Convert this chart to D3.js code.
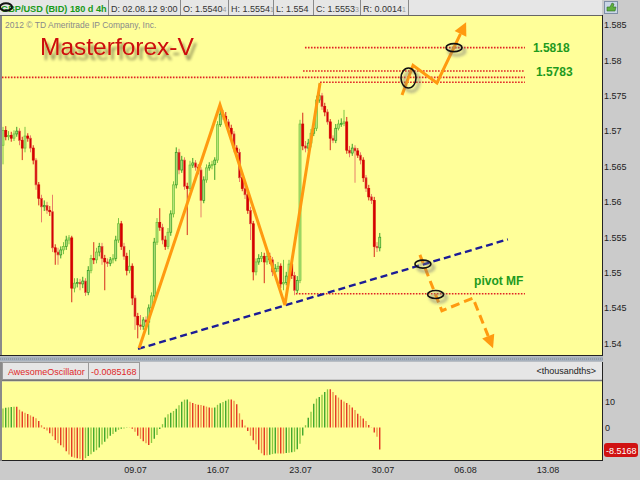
<!DOCTYPE html>
<html><head><meta charset="utf-8">
<script src="https://cdn.jsdelivr.net/npm/d3@7/dist/d3.min.js"></script>
<style>html,body{margin:0;padding:0;background:#cbcbcb;overflow:hidden}svg{display:block;font-family:"Liberation Sans",Arial,sans-serif}</style>
</head><body><svg id="c" width="640" height="480"></svg>
<script>
// ---- data (GBP/USD 4h candles) ----
const closes=[1.5701,1.5692,1.5694,1.5690,1.5696,1.5700,1.5687,1.5676,1.5693,1.5690,
1.5676,1.5659,1.5624,1.5605,1.5593,1.5595,1.5588,1.5586,1.5535,1.5529,
1.5525,1.5532,1.5537,1.5546,1.5549,1.5478,1.5485,1.5486,1.5484,1.5488,
1.5472,1.5503,1.5520,1.5518,1.5529,1.5537,1.5520,1.5515,1.5513,1.5518,
1.5520,1.5546,1.5569,1.5537,1.5523,1.5503,1.5509,1.5464,1.5438,1.5426,
1.5424,1.5433,1.5430,1.5450,1.5467,1.5543,1.5571,1.5564,1.5546,1.5537,
1.5557,1.5583,1.5624,1.5670,1.5645,1.5659,1.5622,1.5619,1.5652,1.5655,
1.5649,1.5645,1.5602,1.5631,1.5648,1.5651,1.5653,1.5659,1.5709,1.5724,
1.5721,1.5713,1.5704,1.5696,1.5676,1.5670,1.5634,1.5619,1.5610,1.5588,
1.5569,1.5501,1.5515,1.5520,1.5523,1.5515,1.5523,1.5518,1.5501,1.5506,
1.5509,1.5484,1.5486,1.5495,1.5512,1.5496,1.5475,1.5489,1.5710,1.5679,
1.5676,1.5683,1.5697,1.5704,1.5744,1.5750,1.5735,1.5727,1.5713,1.5690,
1.5687,1.5704,1.5710,1.5711,1.5713,1.5673,1.5669,1.5676,1.5672,1.5666,
1.5659,1.5634,1.5619,1.5607,1.5602,1.5537,1.5535,1.5550];
const opens=[1.5680,1.5701,1.5692,1.5694,1.5690,1.5696,1.5700,1.5687,1.5676,1.5693,
1.5690,1.5676,1.5659,1.5624,1.5605,1.5593,1.5595,1.5588,1.5586,1.5535,
1.5529,1.5525,1.5532,1.5537,1.5546,1.5549,1.5478,1.5485,1.5486,1.5484,
1.5488,1.5472,1.5503,1.5520,1.5518,1.5529,1.5537,1.5520,1.5515,1.5513,
1.5518,1.5520,1.5546,1.5569,1.5537,1.5523,1.5503,1.5509,1.5464,1.5438,
1.5426,1.5424,1.5433,1.5430,1.5450,1.5467,1.5543,1.5571,1.5564,1.5546,
1.5537,1.5557,1.5583,1.5624,1.5670,1.5645,1.5659,1.5622,1.5619,1.5652,
1.5655,1.5649,1.5645,1.5602,1.5631,1.5648,1.5651,1.5653,1.5659,1.5709,
1.5724,1.5721,1.5713,1.5704,1.5696,1.5676,1.5670,1.5634,1.5619,1.5610,
1.5588,1.5569,1.5501,1.5515,1.5520,1.5523,1.5515,1.5523,1.5518,1.5501,
1.5506,1.5509,1.5484,1.5486,1.5495,1.5512,1.5496,1.5475,1.5489,1.5710,
1.5679,1.5676,1.5683,1.5697,1.5704,1.5744,1.5750,1.5735,1.5727,1.5713,
1.5690,1.5687,1.5704,1.5710,1.5711,1.5713,1.5673,1.5669,1.5676,1.5672,
1.5666,1.5659,1.5634,1.5619,1.5607,1.5602,1.5537,1.5535];
const highs=[1.5706,1.5707,1.5700,1.5699,1.5701,1.5706,1.5704,1.5692,1.5706,1.5697,
1.5694,1.5680,1.5662,1.5628,1.5610,1.5602,1.5600,1.5594,1.5610,1.5540,
1.5535,1.5537,1.5543,1.5552,1.5553,1.5552,1.5492,1.5492,1.5491,1.5494,
1.5492,1.5509,1.5525,1.5543,1.5535,1.5542,1.5542,1.5525,1.5520,1.5522,
1.5526,1.5552,1.5577,1.5573,1.5542,1.5528,1.5532,1.5513,1.5468,1.5443,
1.5440,1.5437,1.5438,1.5455,1.5472,1.5549,1.5577,1.5591,1.5569,1.5552,
1.5563,1.5588,1.5629,1.5677,1.5675,1.5665,1.5663,1.5627,1.5658,1.5662,
1.5659,1.5653,1.5649,1.5636,1.5653,1.5656,1.5658,1.5663,1.5714,1.5737,
1.5730,1.5727,1.5717,1.5709,1.5700,1.5680,1.5675,1.5638,1.5624,1.5614,
1.5593,1.5573,1.5520,1.5526,1.5529,1.5528,1.5529,1.5528,1.5522,1.5512,
1.5515,1.5513,1.5518,1.5501,1.5518,1.5516,1.5501,1.5495,1.5716,1.5726,
1.5686,1.5689,1.5703,1.5710,1.5750,1.5767,1.5754,1.5740,1.5731,1.5717,
1.5694,1.5710,1.5716,1.5718,1.5730,1.5720,1.5679,1.5682,1.5680,1.5676,
1.5670,1.5663,1.5638,1.5624,1.5611,1.5607,1.5543,1.5556];
const lows=[1.5653,1.5687,1.5687,1.5685,1.5686,1.5692,1.5680,1.5659,1.5670,1.5685,
1.5670,1.5653,1.5617,1.5595,1.5571,1.5587,1.5583,1.5580,1.5529,1.5511,
1.5511,1.5520,1.5526,1.5532,1.5540,1.5458,1.5472,1.5479,1.5475,1.5478,
1.5467,1.5468,1.5499,1.5512,1.5513,1.5523,1.5511,1.5475,1.5508,1.5509,
1.5513,1.5516,1.5542,1.5532,1.5518,1.5496,1.5499,1.5454,1.5419,1.5407,
1.5419,1.5419,1.5421,1.5412,1.5445,1.5461,1.5539,1.5559,1.5540,1.5532,
1.5533,1.5552,1.5578,1.5619,1.5639,1.5641,1.5617,1.5553,1.5615,1.5648,
1.5644,1.5639,1.5578,1.5598,1.5627,1.5644,1.5646,1.5631,1.5655,1.5706,
1.5716,1.5707,1.5700,1.5690,1.5670,1.5665,1.5628,1.5615,1.5604,1.5583,
1.5546,1.5489,1.5496,1.5511,1.5515,1.5485,1.5511,1.5512,1.5495,1.5496,
1.5501,1.5478,1.5475,1.5482,1.5489,1.5491,1.5468,1.5471,1.5485,1.5673,
1.5670,1.5672,1.5677,1.5693,1.5700,1.5740,1.5730,1.5721,1.5709,1.5673,
1.5683,1.5683,1.5701,1.5706,1.5707,1.5668,1.5663,1.5665,1.5627,1.5662,
1.5653,1.5628,1.5614,1.5602,1.5597,1.5522,1.5529,1.5530];
// Awesome Oscillator, thousandths
const aoValues=[7.4,7.7,7.8,7.9,8.0,8.0,6.9,6.2,5.7,5.2,4.7,4.2,3.6,2.5,0.9,
-0.5,-1.2,-2.2,-3.4,-4.8,-6.1,-6.9,-7.7,-9.2,-10.5,-11.3,-11.7,-11.9,-12.1,-12.6,
-11.9,-11.0,-10.4,-9.4,-8.8,-7.8,-6.6,-5.5,-4.3,-3.2,-2.5,-1.6,-0.9,-0.5,-0.4,
-0.1,-0.1,-0.5,-1.6,-3.2,-4.4,-5.3,-6.1,-6.8,-6.0,-4.4,-2.9,-0.6,1.3,3.9,
5.1,5.7,6.4,7.3,8.6,10.0,10.8,10.9,10.0,9.5,9.1,8.8,8.7,8.4,8.1,
7.8,7.7,7.8,8.8,9.4,9.9,10.4,10.9,10.9,10.4,9.0,5.5,3.0,0.8,-1.4,
-3.2,-4.9,-6.5,-8.6,-10.0,-10.8,-10.8,-10.6,-10.3,-10.1,-10.1,-10.1,-10.1,-9.9,-9.8,
-9.6,-9.4,-8.4,-6.3,-3.1,0.9,3.8,6.1,9.2,11.2,11.8,12.7,13.8,14.8,14.8,
13.8,12.5,11.6,10.8,10.1,9.5,8.8,7.8,6.8,5.3,4.5,3.5,2.5,1.0,0.1,-1.9,-3.6,-8.5168];
const priceTicks=[1.54,1.545,1.55,1.555,1.56,1.565,1.57,1.575,1.58,1.585];
const aoTicks=[10,0];
const dateTickIdx=[48,78,108,138,168,198];
const dateTickLabels=["09.07","16.07","23.07","30.07","06.08","13.08"];
// annotations: [bar index, price]
const zigzag=[[49.5,1.5393],[78.9,1.5737],[102.5,1.5454],[115.3,1.5768]];
const trendLine=[[49.1,1.5392],[183.6,1.5547]];
const levelPrices=[1.5818,1.5785,1.5776,1.5769,1.5470];
const levelFrom=[109.8,109.1,-0.4,115.3,106.5];
const levelTo=189.8;
const upPath=[[145.1,1.5751],[149.1,1.5793],[157.8,1.5768],[168.4,1.5854]];
const downPath=[[151.6,1.5525],[159.6,1.5446],[170.9,1.5464],[178.2,1.5393]];
const circles=[[147.45,1.5775,7.5,10],[164.0,1.5818,8,4],[152.7,1.5512,8,4],[157.3,1.5469,8,4]];
const levelLabels=[{t:"1.5818",i:192.7,p:1.5812},{t:"1.5783",i:193.8,p:1.5778},{t:"pivot MF",i:171.3,p:1.5482}];
const headerCells=[["D: 02.08.12 9:00",""],["O: 1.5540","4"],["H: 1.5554","1"],["L: 1.554",""],["C: 1.5553","3"],["R: 0.0014","1"]];

// ---- drawing ----
const svg=d3.select("#c");
const x=d3.scaleLinear().domain([0,198]).range([3,547.5]);
const y=d3.scaleLinear().domain([1.54,1.585]).range([343.3,25]);
const yAO=d3.scaleLinear().domain([-10,10]).range([453.3,401.7]);

const defs=svg.append("defs");
defs.append("clipPath").attr("id","cm").append("rect").attr("x",2).attr("y",16).attr("width",600).attr("height",339);
defs.append("clipPath").attr("id","co").append("rect").attr("x",2).attr("y",381).attr("width",600).attr("height",79);
const ds=defs.append("filter").attr("id","ds").attr("x","-10%").attr("y","-40%").attr("width","130%").attr("height","190%");
ds.append("feGaussianBlur").attr("in","SourceAlpha").attr("stdDeviation",1.8).attr("result","b");
ds.append("feOffset").attr("in","b").attr("dx",3).attr("dy",5).attr("result","o");
ds.append("feComponentTransfer").attr("in","o").attr("result","s").append("feFuncA").attr("type","linear").attr("slope",0.45);
const dm=ds.append("feMerge"); dm.append("feMergeNode").attr("in","s"); dm.append("feMergeNode").attr("in","SourceGraphic");
defs.append("filter").attr("id","bl2").attr("x","-50%").attr("y","-50%").attr("width","200%").attr("height","200%")
  .append("feGaussianBlur").attr("stdDeviation",1.5);

svg.append("rect").attr("width",640).attr("height",480).attr("fill","#cbcbcb");

// header
svg.append("rect").attr("x",0).attr("y",0).attr("width",602).attr("height",15).attr("fill","#e6e6e6");
svg.append("line").attr("x1",0).attr("x2",602).attr("y1",15.5).attr("y2",15.5).attr("stroke","#666");
const sepX=[108,180,228,273,313,360,408];
svg.selectAll("line.sep").data(sepX).join("line").attr("x1",d=>d+.5).attr("x2",d=>d+.5).attr("y1",0).attr("y2",15).attr("stroke","#8a8a8a");
svg.append("text").attr("x",1).attr("y",11.5).attr("font-size",9.2).attr("font-weight","bold").attr("fill","#199a19").text("GBP/USD (BID) 180 d 4h");
svg.append("ellipse").attr("cx",6).attr("cy",7).attr("rx",6).attr("ry",3.8).attr("fill","none").attr("stroke","#111").attr("stroke-width",2);
headerCells.forEach((c,k)=>{
  const t=svg.append("text").attr("x",sepX[k]+3).attr("y",11.5).attr("font-size",9).attr("fill","#333");
  t.append("tspan").text(c[0]);
  if(c[1]) t.append("tspan").attr("font-size",7).attr("fill","#999").text(c[1]);
});
// top-right icon
svg.append("rect").attr("x",604.5).attr("y",1.5).attr("width",13).attr("height",12).attr("fill","#c9d6e6").attr("stroke","#7e8ea6");
svg.append("path").attr("d","M607 11 L607 7 L610 7 L612 3 L614 4 L613 7 L616 7 L615 11 Z").attr("fill","#5fb03c").attr("stroke","#2c6e22").attr("stroke-width",.6);

// main panel
svg.append("rect").attr("x",2).attr("y",16).attr("width",600).attr("height",339).attr("fill","#ffff99");
svg.append("line").attr("x1",1).attr("x2",1).attr("y1",16).attr("y2",356).attr("stroke","#8a8a8a").attr("stroke-width",2);
svg.append("line").attr("x1",602.5).attr("x2",602.5).attr("y1",15).attr("y2",356).attr("stroke","#222");
svg.append("line").attr("x1",0).attr("x2",603).attr("y1",355.5).attr("y2",355.5).attr("stroke","#222");
// separator band
svg.append("rect").attr("x",0).attr("y",356.5).attr("width",603).attr("height",5).attr("fill","#a7b1bd");
svg.append("line").attr("x1",0).attr("x2",603).attr("y1",359).attr("y2",359).attr("stroke","#7b8795").attr("stroke-dasharray","1,1");

// copyright
svg.append("text").attr("x",5).attr("y",27.5).attr("font-size",8.5).attr("fill","#8a8a8a").text("2012 \u00A9 TD Ameritrade IP Company, Inc.");
// title with drop shadow
svg.append("text").attr("x",40).attr("y",55).attr("font-size",24.5).attr("fill","#cc0a0a").attr("filter","url(#ds)").text("Masterforex-V");

// candles
const candles=closes.map((c,i)=>({i,o:opens[i],h:highs[i],l:lows[i],c}));
const gC=svg.append("g").attr("clip-path","url(#cm)");
gC.selectAll("line.w").data(candles).join("line")
  .attr("x1",d=>x(d.i)).attr("x2",d=>x(d.i)).attr("y1",d=>y(d.h)).attr("y2",d=>y(d.l))
  .attr("stroke",d=>d.c>=d.o?(d.i%2?"#3b9e28":"#7cc444"):(d.i%2?"#d62a1c":"#e8806a")).attr("stroke-width",1);
gC.selectAll("rect.b").data(candles).join("rect")
  .attr("x",d=>x(d.i)-1).attr("width",2)
  .attr("y",d=>y(Math.max(d.o,d.c))).attr("height",d=>Math.max(1,Math.abs(y(d.o)-y(d.c))))
  .attr("fill",d=>d.c>=d.o?"#b5e27a":"#d40000")
  .attr("stroke",d=>d.c>=d.o?(d.i%2?"#2f9a22":"#6cbf3a"):(d.i%2?"#d40000":"#e0604a")).attr("stroke-width",.7);

// level lines
levelPrices.forEach((p,k)=>{
  gC.append("line").attr("x1",x(levelFrom[k])).attr("x2",x(levelTo)).attr("y1",y(p)).attr("y2",y(p))
   .attr("stroke","#e02424").attr("stroke-width",1.6).attr("stroke-dasharray","1.6,1.4");
});
// trend line
const ln=d3.line().x(d=>x(d[0])).y(d=>y(d[1]));
gC.append("path").attr("d",ln(trendLine)).attr("fill","none").attr("stroke","#1c1c96").attr("stroke-width",2.4).attr("stroke-dasharray","7,4");
// zigzag
gC.append("path").attr("d",ln(zigzag)).attr("fill","none").attr("stroke","#ff9a10").attr("stroke-width",3).attr("stroke-linejoin","miter");
// arrows
function arrow(pts,dash){
  const px=pts.map(d=>[x(d[0]),y(d[1])]);
  const tip=px[px.length-1], prev=px[px.length-2];
  const dx=tip[0]-prev[0], dy=tip[1]-prev[1], L=Math.hypot(dx,dy), ux=dx/L, uy=dy/L;
  const len=13, hw=6.5;
  const base=[tip[0]-ux*len, tip[1]-uy*len];
  const line=px.slice(0,-1).concat([base]);
  const p=gC.append("path").attr("d",d3.line()(line)).attr("fill","none").attr("stroke","#ff9a10").attr("stroke-width",3);
  if(dash) p.attr("stroke-dasharray",dash);
  gC.append("path").attr("d",d3.line()([tip,[base[0]-uy*hw,base[1]+ux*hw],[base[0]+uy*hw,base[1]-ux*hw]])+"Z").attr("fill","#ff9a10");
}
arrow(upPath,null);
arrow(downPath,"9,5");
// ellipses
circles.forEach(c=>{
  gC.append("ellipse").attr("cx",x(c[0])+3).attr("cy",y(c[1])+3.5).attr("rx",c[2]).attr("ry",c[3]).attr("fill","none")
    .attr("stroke","#777").attr("stroke-width",3).attr("opacity",.55).attr("filter","url(#bl2)");
  gC.append("ellipse").attr("cx",x(c[0])).attr("cy",y(c[1])).attr("rx",c[2]).attr("ry",c[3]).attr("fill","none")
    .attr("stroke","#111").attr("stroke-width",1.6);
});
// level labels
levelLabels.forEach(l=>{
  gC.append("text").attr("x",x(l.i)).attr("y",y(l.p)).attr("font-size",12).attr("font-weight","bold").attr("fill","#1e9a1e").text(l.t);
});

// price axis
const ay=svg.append("g").attr("transform","translate(602,0)")
  .call(d3.axisRight(y).tickValues(priceTicks).tickSize(0).tickPadding(2).tickFormat(d3.format(".3~f")));
ay.select(".domain").remove();
ay.selectAll("text").attr("font-size",9).attr("fill","#222").attr("font-family","Liberation Sans, Arial, sans-serif");

// oscillator header
svg.append("rect").attr("x",2).attr("y",362).attr("width",600).attr("height",18).attr("fill","#e6e6e6");
svg.append("rect").attr("x",2.5).attr("y",362.5).attr("width",86).attr("height",17).attr("fill","none").attr("stroke","#9a9a9a");
svg.append("rect").attr("x",88.5).attr("y",362.5).attr("width",51).attr("height",17).attr("fill","none").attr("stroke","#9a9a9a");
svg.append("line").attr("x1",2).attr("x2",602).attr("y1",380.5).attr("y2",380.5).attr("stroke","#777").attr("stroke-width",1.5);
svg.append("text").attr("x",8).attr("y",375).attr("font-size",9).attr("fill","#e02828").text("AwesomeOscillator");
svg.append("text").attr("x",91).attr("y",375).attr("font-size",9).attr("fill","#e02828").text("-0.0085168");
svg.append("text").attr("x",596).attr("y",374).attr("text-anchor","end").attr("font-size",9).attr("fill","#222").text("<thousandths>");

// oscillator panel
svg.append("rect").attr("x",2).attr("y",381.5).attr("width",600).attr("height",78.5).attr("fill","#ffff99");
svg.append("line").attr("x1",0).attr("x2",603).attr("y1",460.5).attr("y2",460.5).attr("stroke","#222");
svg.append("line").attr("x1",602.5).attr("x2",602.5).attr("y1",362).attr("y2",461).attr("stroke","#222");
svg.append("line").attr("x1",1).attr("x2",1).attr("y1",362).attr("y2",461).attr("stroke","#8a8a8a").attr("stroke-width",2);
const gO=svg.append("g").attr("clip-path","url(#co)");
gO.selectAll("line.ao").data(aoValues).join("line")
  .attr("x1",(d,i)=>x(i)).attr("x2",(d,i)=>x(i)).attr("y1",yAO(0)).attr("y2",d=>yAO(d))
  .attr("stroke",(d,i)=>{const up=i>0?d>aoValues[i-1]:true; return up?(i%2?"#2f9f24":"#8cc840"):(i%2?"#e2261a":"#ef9048");})
  .attr("stroke-width",1.3);
const ao=svg.append("g").attr("transform","translate(602,0)")
  .call(d3.axisRight(yAO).tickValues(aoTicks).tickSize(0).tickPadding(3));
ao.select(".domain").remove();
ao.selectAll("text").attr("font-size",9).attr("fill","#222").attr("font-family","Liberation Sans, Arial, sans-serif");
svg.append("rect").attr("x",604).attr("y",443).attr("width",34).attr("height",14).attr("rx",3).attr("fill","#d01212");
svg.append("text").attr("x",606).attr("y",453.5).attr("font-size",9).attr("fill","#fff").text(aoValues[aoValues.length-1].toFixed(4));

// date axis
const ax=svg.append("g").attr("transform","translate(0,461)")
  .call(d3.axisBottom(x).tickValues(dateTickIdx).tickSize(0).tickPadding(6).tickFormat((d,k)=>dateTickLabels[k]));
ax.select(".domain").remove();
ax.selectAll("text").attr("font-size",9).attr("fill","#222").attr("font-family","Liberation Sans, Arial, sans-serif");
</script></body></html>
